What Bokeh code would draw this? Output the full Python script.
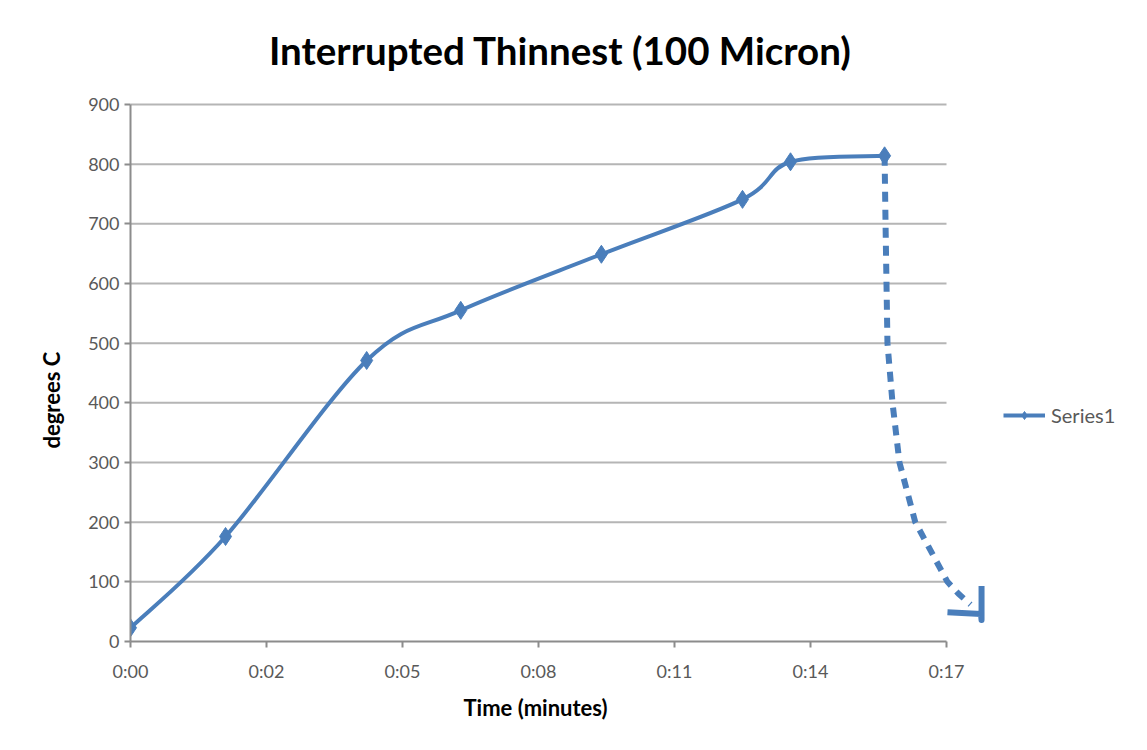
import numpy as np
from bokeh.plotting import figure
from bokeh.models import FixedTicker, Legend, LegendItem, Range1d, Label, Title
from bokeh.embed import file_html
from bokeh.resources import INLINE

# ---------------- data ----------------
title_text = "Interrupted Thinnest (100 Micron)"
x_label = "Time (minutes)"
y_label = "degrees C"
series_name = "Series1"

# measured points (minutes, degrees C)
time_min = [0.0, 1.98, 4.92, 6.88, 9.81, 12.75, 13.75, 15.71]
temp_c = [23, 176, 471, 555, 649, 741, 804, 814]

# cooling trace (dashed, no markers)
cool_time = [15.71, 15.73, 15.75, 15.77, 15.875, 16.02, 16.35, 17.02, 17.25, 17.5]
cool_temp = [814, 700, 600, 500, 400, 300, 200, 100, 80, 62]

# small hook at the end of the cooling trace
hook_time = [17.02, 17.72, 17.73, 17.73]
hook_temp = [49, 46, 36, 93]

x_max = 17
x_tick_labels = ["0:00", "0:02", "0:05", "0:08", "0:11", "0:14", "0:17"]
y_max = 900
y_ticks = [0, 100, 200, 300, 400, 500, 600, 700, 800, 900]

BLUE = "#4A7EBB"
FONT = "Lato"

# ---------------- layout (pixels) ----------------
W, H = 1139, 742
LEFT, BOTTOM = 130, 101
plot_w_px = 816      # width used by 0..x_max
plot_h_px = 537      # height used by 0..y_max
frame_w = W - LEFT
frame_h = H - BOTTOM
x_view_max = x_max * frame_w / plot_w_px
y_view_max = y_max * frame_h / plot_h_px

p = figure(width=W, height=H, output_backend="svg", toolbar_location=None,
           x_range=Range1d(0, x_view_max), y_range=Range1d(0, y_view_max),
           min_border_left=LEFT, min_border_right=0,
           min_border_top=0, min_border_bottom=BOTTOM)
p.outline_line_color = None
p.background_fill_color = "white"
p.border_fill_color = "white"

# axes
n = len(x_tick_labels) - 1
x_ticks = [x_max * i / n for i in range(n + 1)]
p.xaxis.ticker = FixedTicker(ticks=x_ticks)
p.xaxis.major_label_overrides = {t: l for t, l in zip(x_ticks, x_tick_labels)}
p.xaxis.bounds = (0, x_max)
p.yaxis.ticker = FixedTicker(ticks=y_ticks)
p.yaxis.bounds = (0, y_max)

for ax in (p.xaxis, p.yaxis):
    ax.axis_line_color = "#8C8C8C"
    ax.axis_line_width = 2
    ax.major_tick_line_color = "#8C8C8C"
    ax.major_tick_line_width = 2
    ax.major_tick_out = 6
    ax.major_tick_in = 0
    ax.minor_tick_line_color = None
    ax.major_label_text_font = FONT
    ax.major_label_text_font_size = "18px"
    ax.major_label_text_color = "#595959"

p.xaxis.major_label_standoff = 12
p.yaxis.major_label_standoff = 5

# axis titles as side-panel titles, shifted along the panel
p.add_layout(Title(text=x_label, align="left", offset=333,
                   standoff=14, text_font=FONT, text_font_size="22px",
                   text_font_style="bold", text_color="black"), "below")
p.add_layout(Title(text=y_label, align="left", offset=193,
                   standoff=42, text_font=FONT, text_font_size="22px",
                   text_font_style="bold", text_color="black"), "left")

p.xgrid.grid_line_color = None
p.ygrid.grid_line_color = None
# horizontal gridlines ending at the last x tick
p.segment(x0=[0] * (len(y_ticks) - 1), y0=y_ticks[1:],
          x1=[x_max] * (len(y_ticks) - 1), y1=y_ticks[1:],
          line_color="#B5B5B5", line_width=2)

# smoothed main curve (cardinal spline as cubic Bezier segments)
xs = np.array(time_min, dtype=float)
ys = np.array(temp_c, dtype=float)
xp = np.concatenate([[xs[0]], xs, [xs[-1]]])
yp = np.concatenate([[ys[0]], ys, [ys[-1]]])
k = 1.0 / 6.0
x0, y0 = xs[:-1], ys[:-1]
x1, y1 = xs[1:], ys[1:]
cx0 = x0 + k * (xp[2:-1] - xp[0:-3])
cy0 = y0 + k * (yp[2:-1] - yp[0:-3])
cx1 = x1 - k * (xp[3:] - xp[1:-2])
cy1 = y1 - k * (yp[3:] - yp[1:-2])
curve = p.bezier(x0=x0, y0=y0, x1=x1, y1=y1, cx0=cx0, cy0=cy0, cx1=cx1, cy1=cy1,
                 line_color=BLUE, line_width=4)

# cooling dashed trace
p.line(cool_time, cool_temp, line_color=BLUE, line_width=6,
       line_dash="10 8", line_join="round")
p.line(hook_time, hook_temp, line_color=BLUE, line_width=6, line_join="round")

# markers
pts = p.scatter(time_min, temp_c, marker="diamond", size=18,
                fill_color=BLUE, line_color=BLUE, line_width=1)

# legend
legend = Legend(items=[LegendItem(label=series_name, renderers=[curve, pts])],
                location=(873, 214), orientation="vertical",
                glyph_width=42, glyph_height=20, label_height=20,
                label_standoff=6, padding=0, margin=0, spacing=0,
                border_line_color=None, background_fill_alpha=0,
                label_text_font=FONT, label_text_font_size="20px",
                label_text_color="#595959")
p.add_layout(legend, "center")

# chart title
p.add_layout(Label(x=(560 - LEFT) / plot_w_px * x_max,
                   y=y_max + (104 - 49) / plot_h_px * y_max,
                   text=title_text, text_align="center", text_baseline="middle",
                   text_font=FONT, text_font_size="38.5px", text_font_style="bold",
                   text_color="black"))

open("out.html", "w").write(file_html(p, INLINE))
